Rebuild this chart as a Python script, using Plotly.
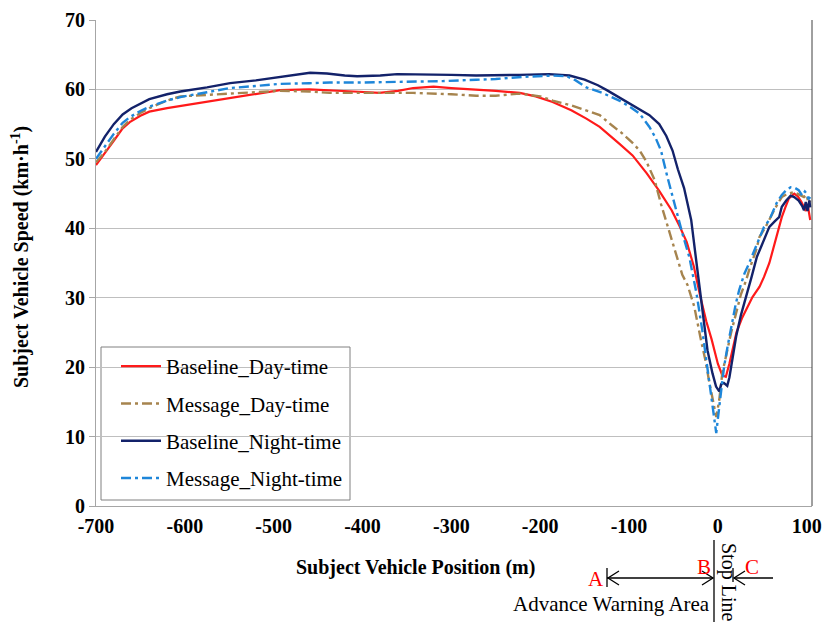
import plotly.graph_objects as go

# ── Data (position m, speed km/h) ─────────────────────────────────────────

base_day_x = [-700, -690, -680, -670, -662, -650, -640, -620, -605, -575, -549, -520, -493, -460,
              -437, -410, -381, -360, -343, -320, -300, -272, -250, -223, -205, -186, -165, -148,
              -133, -111, -96, -80, -66, -52, -43, -35, -27, -20, -13, -7, -3, 0, 5, 9, 13, 17,
              21, 27, 33, 39, 47, 52, 58, 62, 66, 72, 76, 80, 86, 90, 94, 97, 99, 101, 103, 104]
base_day_y = [49.1, 50.8, 52.6, 54.4, 55.3, 56.2, 56.8, 57.3, 57.6, 58.2, 58.8, 59.4, 59.9, 60.0,
              59.9, 59.7, 59.5, 59.8, 60.2, 60.4, 60.2, 60.0, 59.8, 59.5, 59.0, 58.2, 57.0, 55.8,
              54.6, 52.2, 50.5, 47.9, 45.4, 42.6, 40.3, 38.0, 34.5, 30.3, 26.6, 24.0, 22.0, 20.5,
              18.8, 18.6, 20.5, 23.0, 25.0, 27.0, 28.6, 30.1, 31.6, 33.0, 35.0, 36.8, 38.8, 41.6,
              43.0, 44.3, 45.0, 44.6, 43.8, 43.0, 42.5, 43.5, 41.5, 41.2]

msg_day_x = [-700, -690, -680, -670, -662, -650, -640, -620, -605, -575, -549, -520, -493, -460,
             -437, -400, -381, -343, -300, -272, -250, -223, -200, -186, -165, -148, -133, -119,
             -108, -96, -88, -80, -71, -64, -56, -48, -40, -34, -26.5, -19, -14, -10, -6, -1.8,
             1.6, 5, 10.6, 15, 20.6, 26, 31.8, 35.3, 43, 47, 53, 59, 65, 72, 79, 86, 92, 97, 100,
             102, 104]
msg_day_y = [49.5, 51.0, 52.8, 54.6, 55.6, 56.6, 57.3, 58.4, 59.0, 59.2, 59.4, 59.6, 59.8, 59.7,
             59.5, 59.5, 59.5, 59.5, 59.3, 59.1, 59.1, 59.4, 59.0, 58.4, 57.7, 57.0, 56.3, 54.8,
             53.7, 52.3, 51.2, 49.5, 46.9, 43.5, 40.0, 36.8, 33.3, 31.8, 28.7, 23.9, 21.0, 18.1,
             15.5, 12.8, 15.3, 19.1, 22.4, 25.0, 27.8, 30.5, 32.5, 34.0, 36.8, 38.8, 40.0, 41.6,
             43.0, 44.5, 45.0, 45.2, 44.8, 44.5, 44.8, 43.6, 44.0]

base_night_x = [-700, -690, -680, -670, -660, -650, -640, -620, -605, -575, -549, -520, -493, -470,
                -459, -440, -420, -406, -380, -361, -335, -300, -272, -250, -223, -190, -167, -150,
                -135, -125, -110, -100, -88, -77, -66, -58, -51, -45, -38, -30, -24, -17.5, -11.6,
                -6, -2, 1.6, 4, 7, 10.6, 13, 15, 20.6, 26, 32, 38, 44, 51, 58, 64, 69, 72, 77, 82,
                86, 91, 95, 97, 99, 101, 103, 104]
base_night_y = [51.0, 53.2, 55.0, 56.4, 57.3, 58.0, 58.6, 59.3, 59.7, 60.3, 60.9, 61.3, 61.8, 62.2,
                62.4, 62.3, 62.0, 61.9, 62.0, 62.2, 62.2, 62.1, 62.0, 62.0, 62.1, 62.2, 62.0, 61.4,
                60.6, 59.9, 58.8, 58.0, 57.2, 56.3, 55.0, 53.3, 51.2, 48.5, 45.8, 41.2, 35.0, 28.7,
                22.4, 19.1, 17.2, 16.5, 17.6, 17.7, 17.3, 18.5, 20.0, 24.4, 27.5, 30.1, 33.0, 35.9,
                38.0, 40.2, 41.0, 41.6, 43.1, 44.0, 44.7, 44.5, 44.0, 43.2, 42.6, 43.8, 42.5, 44.0,
                43.0]

msg_night_x = [-700, -690, -680, -670, -662, -650, -640, -620, -605, -575, -549, -520, -493, -460,
               -437, -400, -360, -343, -310, -272, -250, -220, -186, -170, -160, -148, -130, -111,
               -100, -88, -77, -70, -64, -57, -49, -40, -32, -24, -17.5, -12, -7.4, -4, -1.8, 1.6,
               4, 7, 11, 15, 20, 24, 30, 35, 41, 47, 52, 58, 62, 66, 72, 77, 82, 87, 91, 95, 98,
               100, 102, 104]
msg_night_y = [50.0, 51.8, 53.6, 55.2, 56.0, 56.9, 57.5, 58.4, 58.9, 59.6, 60.2, 60.5, 60.8, 60.9,
               61.0, 61.0, 61.1, 61.1, 61.2, 61.4, 61.5, 61.8, 62.0, 61.9, 61.3, 60.3, 59.5, 58.4,
               57.6, 56.5, 54.6, 53.0, 51.2, 47.5, 43.6, 39.3, 35.8, 30.6, 25.3, 20.0, 16.3, 12.4,
               10.5, 14.3, 17.0, 20.0, 23.0, 25.8, 29.0, 31.1, 33.5, 34.9, 36.8, 38.8, 40.2, 41.2,
               42.3, 43.6, 44.8, 45.5, 45.9, 45.8, 45.5, 44.7, 45.3, 45.0, 44.2, 44.5]

x_ticks = [-700, -600, -500, -400, -300, -200, -100, 0, 100]
x_tick_text = ["-700", "-600", "-500", "-400", "-300", "-200", "-100", "0", "100"]
y_ticks = [0, 10, 20, 30, 40, 50, 60, 70]

FONT = "Liberation Serif, Times New Roman, serif"

# plot area in page pixels, used to place the decorations under the axis
L, R, T, B = 96, 812, 20, 506


def px(p):
    return (p - L) / (R - L)


def py(q):
    return (B - q) / (B - T)


fig = go.Figure()

series = [
    ("Baseline_Day-time", base_day_x, base_day_y, "#FF1A1A", "solid", 2.2),
    ("Message_Day-time", msg_day_x, msg_day_y, "#A6844E", "10px,4px,3px,4px", 2.4),
    ("Baseline_Night-time", base_night_x, base_night_y, "#13226A", "solid", 2.4),
    ("Message_Night-time", msg_night_x, msg_night_y, "#1E86D9", "10px,4px,3px,4px", 2.4),
]
for name, xs, ys, col, dash, w in series:
    fig.add_trace(go.Scatter(
        x=xs, y=ys, name=name, mode="lines", legendgroup=name,
        line=dict(color=col, dash=dash, width=w),
    ))

# ── Decorations below the axis: stop line and warning-area arrows ─────────
ln = dict(color="black", width=1.3)
shapes = [
    # legend frame (opaque over the gridlines)
    dict(type="rect", xref="paper", yref="paper", layer="between",
         x0=px(101), x1=px(350), y0=py(500), y1=py(347),
         fillcolor="white", line=dict(color="#808080", width=1)),
    dict(type="line", xref="paper", yref="paper", x0=px(714), x1=px(714), y0=py(540), y1=py(622), line=ln),
    dict(type="line", xref="paper", yref="paper", x0=px(607), x1=px(713), y0=py(578), y1=py(578), line=ln),
    dict(type="line", xref="paper", yref="paper", x0=px(607), x1=px(607), y0=py(568), y1=py(587), line=ln),
    dict(type="path", xref="paper", yref="paper", line=ln,
         path=f"M{px(619)},{py(571)} L{px(608)},{py(578)} L{px(619)},{py(585)}"),
    dict(type="path", xref="paper", yref="paper", line=ln,
         path=f"M{px(702)},{py(571)} L{px(713)},{py(578)} L{px(702)},{py(585)}"),
    dict(type="line", xref="paper", yref="paper", x0=px(733), x1=px(733), y0=py(568), y1=py(582), line=ln),
    dict(type="path", xref="paper", yref="paper", line=ln,
         path=f"M{px(745)},{py(571)} L{px(734)},{py(578)} L{px(745)},{py(585)}"),
    dict(type="line", xref="paper", yref="paper", x0=px(734), x1=px(773), y0=py(578), y1=py(578), line=ln),
    # dark right border of the plot area
    dict(type="line", xref="paper", yref="paper", x0=1, x1=1, y0=0, y1=1,
         line=dict(color="#404040", width=1)),
]

annotations = [
    dict(text="<b>Subject Vehicle Speed (km·h<sup>-1</sup>)</b>", textangle=-90,
         x=px(20), y=py(257), xref="paper", yref="paper", showarrow=False,
         xanchor="center", yanchor="middle",
         font=dict(size=20, family=FONT, color="black")),
    dict(text="<b>Subject Vehicle Position (m)</b>",
         x=px(415), y=py(567), xref="paper", yref="paper", showarrow=False,
         xanchor="center", yanchor="middle",
         font=dict(size=20, family=FONT, color="black")),
    dict(text="Advance Warning Area", x=px(712), y=py(604), xanchor="right", yanchor="middle",
         xref="paper", yref="paper", showarrow=False,
         font=dict(size=21, family=FONT, color="black")),
    dict(text="Stop Line", textangle=90, x=px(729), y=py(582),
         xanchor="center", yanchor="middle",
         xref="paper", yref="paper", showarrow=False,
         font=dict(size=20, family=FONT, color="black")),
    dict(text="A", x=px(596), y=py(579), xref="paper", yref="paper", showarrow=False,
         xanchor="center", yanchor="middle",
         font=dict(size=21, family=FONT, color="#FF0000")),
    dict(text="B", x=px(704), y=py(567), xref="paper", yref="paper", showarrow=False,
         xanchor="center", yanchor="middle",
         font=dict(size=21, family=FONT, color="#FF0000")),
    dict(text="C", x=px(752), y=py(567), xref="paper", yref="paper", showarrow=False,
         xanchor="center", yanchor="middle",
         font=dict(size=21, family=FONT, color="#FF0000")),
]

fig.update_layout(
    width=827, height=622,
    margin=dict(l=L, r=827 - R, t=T, b=622 - B),
    paper_bgcolor="white", plot_bgcolor="white",
    font=dict(family=FONT, color="black"),
    showlegend=True,
    legend=dict(
        x=px(116), y=py(346), xanchor="left", yanchor="top",
        bgcolor="rgba(0,0,0,0)", borderwidth=0,
        font=dict(size=21, family=FONT, color="black"),
        tracegroupgap=7, itemwidth=40,
    ),
    xaxis=dict(
        range=[-700, 106], tickvals=x_ticks, ticktext=x_tick_text,
        showgrid=False, zeroline=False, ticks="", automargin=False,
        showline=True, linecolor="#A6A6A6", linewidth=1,
        tickfont=dict(size=20, family=FONT, color="black", weight="bold"),
        ticklabelstandoff=2,
    ),
    yaxis=dict(
        range=[0, 70], tickvals=y_ticks, automargin=False,
        showgrid=True, gridcolor="#BFBFBF", gridwidth=1, zeroline=False,
        ticks="outside", ticklen=6, tickcolor="#A6A6A6",
        showline=True, linecolor="#A6A6A6", linewidth=1,
        tickfont=dict(size=20, family=FONT, color="black", weight="bold"),
    ),
    shapes=shapes,
    annotations=annotations,
)

# page body margin would shift the 827x622 figure inside the window
fig.write_html("out.html", config={"displayModeBar": False},
               post_script="document.body.style.margin='0';")
